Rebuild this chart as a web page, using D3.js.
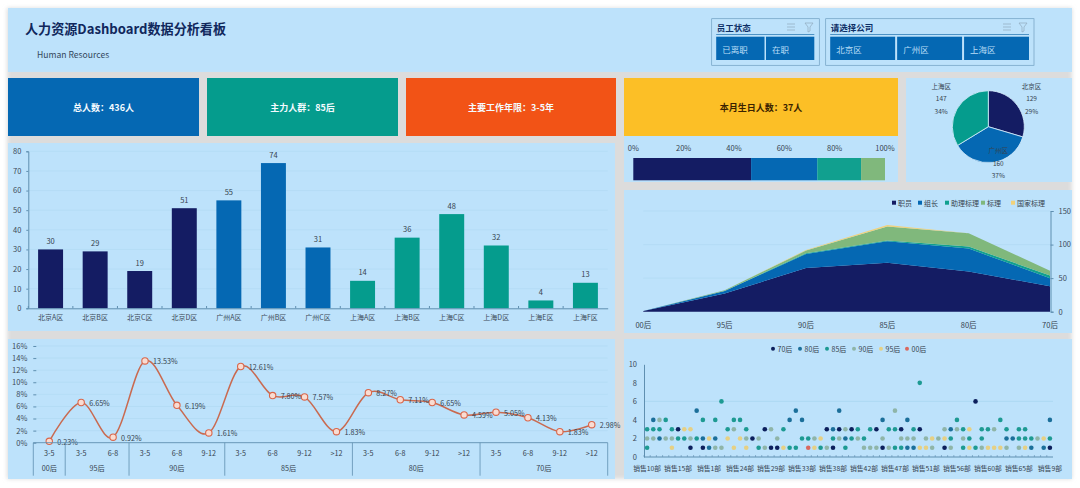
<!DOCTYPE html>
<html>
<head>
<meta charset="utf-8">
<script src="https://cdnjs.cloudflare.com/ajax/libs/d3/7.8.5/d3.min.js"></script>
<style>
  html, body { margin: 0; padding: 0; background: #fff; overflow: hidden; }
  text { font-family: "Noto Sans CJK SC", "Noto Sans", sans-serif; }
  .axis path, .axis line { stroke: #5f8fb0; }
  .axis text { fill: #3c4a58; font-size: 7.5px; }
  .grid line { stroke: #aed8f2; stroke-width: 0.6; }
</style>
</head>
<body>
<svg id="chart" width="1080" height="488"></svg>
<script>
// ---- data ----
const title = "人力资源Dashboard数据分析看板";
const subtitle = "Human Resources";
const kpi_labels = ["总人数：436人", "主力人群：85后", "主要工作年限：3-5年", "本月生日人数：37人"];
const status_options = ["已离职", "在职"];
const company_options = ["北京区", "广州区", "上海区"];

const area_names = ["北京A区", "北京B区", "北京C区", "北京D区", "广州A区", "广州B区", "广州C区",
  "上海A区", "上海B区", "上海C区", "上海D区", "上海E区", "上海F区"];
const area_counts = [30, 29, 19, 51, 55, 74, 31, 14, 36, 48, 32, 4, 13];
const area_city = [0, 0, 0, 0, 1, 1, 1, 2, 2, 2, 2, 2, 2];

const city_names = ["北京区", "广州区", "上海区"];
const city_counts = [129, 160, 147];
const city_shares = ["29%", "37%", "34%"];

const level_shares = [46.8, 26.3, 17.4, 9.5];
const share_ticks = [0, 20, 40, 60, 80, 100];

const generations = ["00后", "95后", "90后", "85后", "80后", "70后"];
const level_names = ["职员", "组长", "助理标理", "标理", "国家标理"];
const staff_level = [1, 27, 65, 73, 60, 38];
const lead_level = [0, 4, 21, 32, 34, 12];
const assistant_level = [0, 0, 1, 1, 3, 4];
const manager_level = [0, 1, 4, 21, 20, 7];
const national_level = [0, 0, 1, 2, 0, 0];

const tenure_labels = ["3-5", "3-5", "6-8", "3-5", "6-8", "9-12", "3-5", "6-8", "9-12", ">12",
  "3-5", "6-8", "9-12", ">12", "3-5", "6-8", "9-12", ">12"];
const tenure_values = [0.23, 6.65, 0.92, 13.53, 6.19, 1.61, 12.61, 7.80, 7.57, 1.83,
  8.27, 7.11, 6.65, 4.59, 5.05, 4.13, 1.83, 2.98];
const tenure_group_sizes = [1, 2, 3, 4, 4, 4];

const dept_numbers = [10, 11, 12, 13, 14, 15, 16, 17, 18, 19, 1, 20, 21, 22, 23, 24, 25, 26, 27, 28, 29, 2,
  30, 31, 32, 33, 34, 35, 36, 37, 38, 39, 3, 40, 41, 42, 43, 44, 45, 46, 47, 48, 49, 4,
  50, 51, 52, 53, 54, 55, 56, 57, 58, 59, 5, 60, 61, 62, 63, 64, 65, 66, 6, 7, 8, 9];
const dept_names = dept_numbers.map(n => "销售" + n + "部");

// [department index, head count]
const dept_70 = [[5,3],[7,1],[9,1],[17,2],[19,3],[20,1],[21,1],[29,3],[30,1],[31,3],[33,3],[37,3],[38,1],[41,3],[44,3],[48,1],[53,6],[65,1]];
const dept_80 = [[1,4],[2,2],[8,5],[9,2],[10,1],[11,2],[23,4],[24,5],[25,4],[30,3],[31,5],[32,2],[38,4],[42,1],[42,4],[43,1],[49,3],[58,2],[59,2],[62,1],[64,1],[65,4]];
const dept_85 = [[0,1],[0,3],[1,3],[2,3],[3,4],[4,3],[5,2],[6,2],[8,2],[9,4],[11,4],[12,6],[13,3],[14,4],[15,4],[16,3],[18,1],[22,3],[23,1],[24,1],[25,2],[26,2],[28,1],[30,2],[32,1],[33,2],[34,3],[35,2],[36,3],[39,3],[40,1],[40,3],[41,1],[43,3],[44,8],[49,2],[50,4],[51,1],[51,3],[52,2],[53,1],[54,2],[54,3],[55,3],[57,4],[58,3],[60,2],[60,3],[61,2],[61,3],[62,2],[65,2]];
const dept_90 = [[0,2],[1,2],[2,4],[3,2],[4,2],[7,2],[11,1],[12,1],[14,3],[16,2],[18,2],[19,1],[20,3],[21,2],[27,2],[29,1],[31,2],[32,3],[34,2],[35,1],[36,1],[37,1],[38,2],[39,1],[40,5],[41,2],[42,2],[43,2],[45,2],[46,1],[47,2],[48,3],[49,1],[50,3],[51,2],[54,1],[56,3],[58,1],[60,1],[63,2]];
const dept_95 = [[4,1],[6,3],[7,3],[10,2],[13,2],[14,1],[15,2],[16,1],[22,1],[27,1],[28,2],[44,1],[45,1],[46,2],[48,2],[52,1],[52,3],[55,1],[56,1],[57,1],[61,1],[64,2]];
const dept_00 = [[26,1]];
const dept_series = [dept_70, dept_80, dept_85, dept_90, dept_95, dept_00];
const dept_series_names = ["70后", "80后", "85后", "90后", "95后", "00后"];

// ---- colours ----
const NAVY = "#141c63", BLUE = "#0568b3", TEAL = "#059c8d", GREEN = "#80b87c", GOLD = "#f2d27a";
const PANEL = "#bde2fb", GUTTER = "#dcdcdc", INK = "#36434f";
const dot_colors = ["#0c1f5c", "#1b6f9a", "#1d9a92", "#8fb5a8", "#e6d084", "#d9685f"];

const svg = d3.select("#chart");

svg.append("defs").append("filter").attr("id", "soft").append("feGaussianBlur").attr("stdDeviation", 2);

// page background and the panels
svg.append("rect").attr("x", 7).attr("y", 8).attr("width", 1065).attr("height", 471)
  .attr("fill", GUTTER).attr("filter", "url(#soft)");

function panel(x0, y0, x1, y1, fill = PANEL) {
  return svg.append("rect").attr("x", x0).attr("y", y0)
    .attr("width", x1 - x0).attr("height", y1 - y0).attr("fill", fill);
}

function label(x, y, text, size = 7.5, anchor = "middle", fill = INK, weight = 400) {
  return svg.append("text").attr("x", x).attr("y", y).attr("text-anchor", anchor)
    .attr("dominant-baseline", "central").attr("font-size", size)
    .attr("font-weight", weight).attr("fill", fill).text(text);
}

panel(8, 8, 1072, 72);
panel(8, 143, 615, 331);
panel(624, 136, 898, 182);
panel(906, 78, 1072, 182);
panel(624, 190, 1072, 333);
panel(8, 339, 615, 479);
panel(624, 339, 1072, 479);

// ---- header ----
label(25, 28, title, 13.1, "start", "#10275c", 700);
label(37, 54, subtitle, 8.6, "start", "#33475c");

function icons(x0, x1, y) {
  // the sort lines and the funnel of a slicer head
  const g = svg.append("g").attr("stroke", "#8fa9bd").attr("fill", "none").attr("stroke-width", 0.7);
  [-3, 0, 3].forEach(d => {
    g.append("line").attr("x1", x0 - 4).attr("x2", x0 + 4).attr("y1", y + d).attr("y2", y + d);
  });
  g.append("path").attr("d", `M${x1 - 4} ${y - 4}h8l-3 4v4l-2 1v-5z`);
}

function slicer(x0, x1, name, options, icon_x0, icon_x1) {
  svg.append("rect").attr("x", x0).attr("y", 18.7).attr("width", x1 - x0).attr("height", 46.6)
    .attr("fill", "none").attr("stroke", "#6f9fc0").attr("stroke-width", 0.7);
  label(x0 + 5, 27, name, 8.5, "start", "#0d2f66", 700);
  svg.append("line").attr("x1", x0 + 4.5).attr("x2", x1 - 5).attr("y1", 34.5).attr("y2", 34.5)
    .attr("stroke", "#2f7db8").attr("stroke-width", 0.8);
  icons(icon_x0, icon_x1, 27);
  const band = d3.scaleBand().domain(options).range([x0 + 4.5, x1 - 5]).paddingInner(0.03);
  options.forEach(d => {
    panel(band(d), 36.7, band(d) + band.bandwidth(), 60, BLUE);
    label(band(d) + 6, 49, d, 8.5, "start", "#b9def7");
  });
}
slicer(711.7, 819.3, "员工状态", status_options, 791, 809);
slicer(825.7, 1034, "请选择公司", company_options, 1007, 1023);

// ---- kpi cards ----
const kpi_colors = [BLUE, TEAL, "#f25316", "#fcbf26"];
const kpi_spans = [[8, 199], [207, 398], [406, 616], [624, 898]];
kpi_labels.forEach((d, i) => {
  const [x0, x1] = kpi_spans[i];
  panel(x0, 78, x1, 136, kpi_colors[i]);
  label((x0 + x1) / 2, 107, d, 9, "middle", i === 3 ? "#3a2200" : "#f4fbff", 700);
});

// ---- bars by area ----
{
  const x = d3.scaleBand().domain(area_names).range([28.3, 607.7]).paddingInner(0.44).paddingOuter(0.22);
  const y = d3.scaleLinear().domain([0, 80]).range([308.3, 151.3]);
  const city_colors = [NAVY, BLUE, TEAL];

  svg.append("g").attr("class", "grid").selectAll("line").data(y.ticks(8).slice(1)).join("line")
    .attr("x1", 28.3).attr("x2", 607.7).attr("y1", d => y(d)).attr("y2", d => y(d));

  svg.selectAll("rect.area").data(area_counts).join("rect").attr("class", "area")
    .attr("x", (d, i) => x(area_names[i])).attr("width", x.bandwidth())
    .attr("y", d => y(d)).attr("height", d => y(0) - y(d))
    .attr("fill", (d, i) => city_colors[area_city[i]]);

  area_counts.forEach((d, i) => label(x(area_names[i]) + x.bandwidth() / 2, y(d) - 9, d, 7.5));

  svg.append("g").attr("class", "axis").attr("transform", "translate(28.3,0)")
    .call(d3.axisLeft(y).ticks(8).tickSize(2).tickPadding(5));

  const step = x.step();
  svg.append("g").attr("class", "axis").attr("transform", "translate(0,308.3)")
    .call(d3.axisBottom(x).tickSize(0).tickPadding(7))
    .selectAll("text").style("font-size", "7px");
  svg.append("g").selectAll("line").data(area_names).join("line")
    .attr("x1", (d, i) => 28.3 + step * i).attr("x2", (d, i) => 28.3 + step * i)
    .attr("y1", 306).attr("y2", 308.3).attr("stroke", "#5f8fb0");
}

// ---- share of levels ----
{
  const x = d3.scaleLinear().domain([0, 100]).range([633.3, 885]);
  const bar_colors = [NAVY, BLUE, "#11a08f", GREEN];
  let start = 0;
  level_shares.forEach((d, i) => {
    svg.append("rect").attr("x", x(start)).attr("width", x(start + d) - x(start))
      .attr("y", 158).attr("height", 22.3).attr("fill", bar_colors[i]);
    start += d;
  });
  share_ticks.forEach(d => label(x(d), 147.7, d + "%", 7.5));
}

// ---- city pie ----
{
  const cx = 988.3, cy = 126.7, r = 36;
  const arcs = d3.pie().sort(null)(city_counts);
  const arc = d3.arc().innerRadius(0).outerRadius(r);
  const colors = [NAVY, BLUE, TEAL];
  const g = svg.append("g").attr("transform", `translate(${cx},${cy})`);
  g.selectAll("path").data(arcs).join("path").attr("d", arc)
    .attr("fill", (d, i) => colors[i]).attr("stroke", "#d8eefc").attr("stroke-width", 0.8);

  arcs.forEach((d, i) => {
    const mid = (d.startAngle + d.endAngle) / 2;
    const inner = i === 1;
    const px = cx + Math.sin(mid) * 54;
    const py = inner ? cy + 36 : cy - 28.5;
    const cols = inner ? cx + 10 : px;
    label(cols, py - 12.5, city_names[i], 6.5);
    label(cols, py, city_counts[i], 6.5);
    label(cols, py + 12.5, city_shares[i], 6.5);
  });
}

// ---- stacked area by generation ----
{
  const x = d3.scalePoint().domain(generations).range([643.3, 1050]);
  const y = d3.scaleLinear().domain([0, 150]).range([311.7, 211]);
  const layers = [staff_level, lead_level, assistant_level, manager_level, national_level];
  const rows = generations.map((g, i) => {
    const row = { g };
    level_names.forEach((n, k) => { row[n] = layers[k][i]; });
    return row;
  });
  const stack = d3.stack().keys(level_names)(rows);
  const colors = [NAVY, BLUE, "#11a08f", GREEN, GOLD];

  svg.append("g").attr("class", "grid").selectAll("line").data([50, 100, 150]).join("line")
    .attr("x1", 643.3).attr("x2", 1050).attr("y1", d => y(d)).attr("y2", d => y(d));

  const area = d3.area().x(d => x(d.data.g)).y0(d => y(d[0])).y1(d => y(d[1]));
  svg.selectAll("path.layer").data(stack).join("path").attr("class", "layer")
    .attr("d", area).attr("fill", (d, i) => colors[i]);

  svg.append("g").attr("class", "axis").attr("transform", "translate(1050.5,0)")
    .call(d3.axisRight(y).tickValues([0, 50, 100, 150]).tickSize(3).tickPadding(5));

  generations.forEach(d => label(x(d), 324, d, 7.5));

  const legend_x = [894, 920, 947, 983, 1013];
  level_names.forEach((d, i) => {
    svg.append("rect").attr("x", legend_x[i] - 2).attr("y", 200.7).attr("width", 4).attr("height", 4).attr("fill", colors[i]);
    label(legend_x[i] + 4, 202.7, d, 7, "start");
  });
}

// ---- tenure line ----
{
  const x = d3.scaleBand().domain(d3.range(tenure_values.length)).range([33.3, 607.7]);
  const y = d3.scaleLinear().domain([0, 16]).range([442.7, 346]);
  const cx = i => x(i) + x.bandwidth() / 2;

  svg.append("g").attr("class", "grid").selectAll("line").data(d3.range(2, 17, 2)).join("line")
    .attr("x1", 33.3).attr("x2", 607.7).attr("y1", d => y(d)).attr("y2", d => y(d));

  svg.append("g").attr("class", "axis").attr("transform", "translate(33.3,0)")
    .call(d3.axisRight(y).tickValues(d3.range(0, 17, 2)).tickSize(3).tickFormat(d => d + "%"))
    .call(g => g.select(".domain").remove())
    .selectAll("text").attr("x", -6).attr("text-anchor", "end");

  const line = d3.line().x((d, i) => cx(i)).y(d => y(d)).curve(d3.curveCardinal.tension(0));
  svg.append("path").attr("d", line(tenure_values)).attr("fill", "none")
    .attr("stroke", "#c96a50").attr("stroke-width", 1.5);

  svg.selectAll("circle.tenure").data(tenure_values).join("circle").attr("class", "tenure")
    .attr("cx", (d, i) => cx(i)).attr("cy", d => y(d)).attr("r", 3.2)
    .attr("fill", "#f9dcd2").attr("stroke", "#d9664a").attr("stroke-width", 1.1);

  tenure_values.forEach((d, i) => label(cx(i) + 8, y(d) + 0.5, d.toFixed(2) + "%", 7.2, "start"));

  // two level category axis below the line
  svg.append("line").attr("x1", 33.3).attr("x2", 607.7).attr("y1", 442.7).attr("y2", 442.7)
    .attr("stroke", "#5f8fb0").attr("stroke-width", 0.9);
  tenure_labels.forEach((d, i) => label(cx(i), 452.7, d, 7.2));
  let at = 0;
  const edge = i => i === tenure_values.length ? 607.7 : x(i);
  svg.append("line").attr("x1", 33.3).attr("x2", 33.3).attr("y1", 442.7).attr("y2", 475.7)
    .attr("stroke", "#5f8fb0").attr("stroke-width", 0.8);
  tenure_group_sizes.forEach((n, k) => {
    const a = edge(at), b = edge(at + n);
    label((a + b) / 2, 468, generations[k], 7.2);
    svg.append("line").attr("x1", b).attr("x2", b).attr("y1", 442.7).attr("y2", 475.7)
      .attr("stroke", "#5f8fb0").attr("stroke-width", 0.8);
    at += n;
  });
}

// ---- departments scatter ----
{
  const x = d3.scaleBand().domain(dept_names).range([644, 1053]);
  const y = d3.scaleLinear().domain([0, 10]).range([457, 364.3]);

  svg.append("line").attr("x1", 644).attr("x2", 1053).attr("y1", y(6)).attr("y2", y(6))
    .attr("stroke", "#a8d4ef").attr("stroke-width", 0.7);

  svg.append("g").attr("class", "axis").attr("transform", "translate(644,0)")
    .call(d3.axisLeft(y).tickValues([0, 2, 4, 6, 8, 10]).tickSize(0).tickPadding(7));

  svg.append("line").attr("x1", 644).attr("x2", 1053).attr("y1", 457).attr("y2", 457).attr("stroke", "#5f8fb0");
  svg.append("g").selectAll("line").data(dept_names).join("line")
    .attr("x1", d => x(d)).attr("x2", d => x(d)).attr("y1", 455).attr("y2", 457).attr("stroke", "#5f8fb0").attr("stroke-width", 0.6);

  dept_series.forEach((series, k) => {
    svg.append("g").selectAll("circle").data(series).join("circle")
      .attr("cx", d => x(dept_names[d[0]]) + x.bandwidth() / 2)
      .attr("cy", d => y(d[1])).attr("r", 2.3).attr("fill", dot_colors[k]);
  });

  dept_names.forEach((d, i) => {
    if (i % 5 === 0 || i === dept_names.length - 1) {
      label(x(d) + x.bandwidth() / 2, 468, d, 6.8, "middle");
    }
  });

  const legend_x = [773, 800, 827, 854, 881, 907];
  dept_series_names.forEach((d, i) => {
    svg.append("circle").attr("cx", legend_x[i]).attr("cy", 348.7).attr("r", 2).attr("fill", dot_colors[i]);
    label(legend_x[i] + 4.5, 348.7, d, 7, "start");
  });
}
</script>
</body>
</html>
